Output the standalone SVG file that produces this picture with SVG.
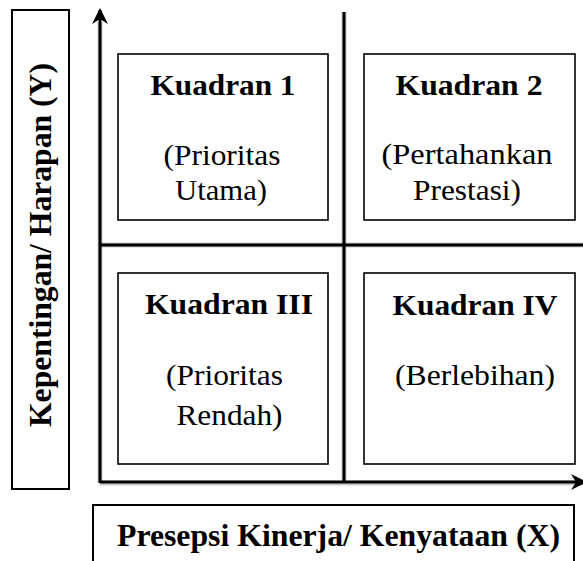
<svg xmlns="http://www.w3.org/2000/svg" width="583" height="561" viewBox="0 0 583 561">
  <style>
    .box { fill: #fff; stroke: #000; stroke-width: 1.6; }
    .lbl { fill: #fff; stroke: #000; stroke-width: 2; }
    .axis { stroke: #000; stroke-width: 3; fill: none; }
    .shadow { stroke: #999; stroke-width: 5; fill: none; opacity: 0.5; }
    text { fill: #000; text-anchor: middle; }
    .h { font-weight: bold; font-size: 30px; }
    .t { font-weight: normal; font-size: 30px; }
    .ax { font-weight: bold; font-size: 31px; }
  </style>
  <defs>
    <marker id="arr" viewBox="0 0 20 20" refX="16" refY="10" markerWidth="20" markerHeight="20" markerUnits="userSpaceOnUse" orient="auto">
      <path d="M2,2 L18,10 L2,18 L7,10 Z" fill="#000"/>
    </marker>
  </defs>
  <rect width="583" height="561" fill="#fff"/>

  <g id="connectors">
    <line class="shadow" x1="100" y1="22" x2="100" y2="483"/>
    <line class="shadow" x1="344" y1="12" x2="344" y2="483"/>
    <line class="shadow" x1="100" y1="245" x2="583" y2="245"/>
    <line class="shadow" x1="100" y1="483" x2="583" y2="483"/>
    <line class="axis" x1="100" y1="483" x2="100" y2="10" marker-end="url(#arr)"/>
    <line class="axis" x1="100" y1="482" x2="585" y2="482" marker-end="url(#arr)"/>
    <line class="axis" x1="344" y1="12" x2="344" y2="482"/>
    <line class="axis" x1="100" y1="245" x2="583" y2="245"/>
  </g>

  <g id="label-y">
    <rect class="lbl" x="12" y="10" width="57" height="479"/>
    <text class="ax" font-family="Liberation Serif, serif" transform="translate(51,245) rotate(-90)" x="0" y="0" textLength="364" lengthAdjust="spacingAndGlyphs">Kepentingan/ Harapan (Y)</text>
  </g>

  <g id="label-x">
    <rect class="lbl" x="93" y="505" width="481" height="70"/>
    <text class="ax" font-family="Liberation Serif, serif" x="338.5" y="546" textLength="443" lengthAdjust="spacingAndGlyphs">Presepsi Kinerja/ Kenyataan (X)</text>
  </g>

  <g id="kuadran-1">
    <rect class="box" x="118" y="54" width="210" height="166"/>
    <text class="h" font-family="Liberation Serif, serif" x="223" y="95" textLength="145" lengthAdjust="spacingAndGlyphs">Kuadran 1</text>
    <text class="t" font-family="Liberation Serif, serif" x="222" y="165" textLength="117" lengthAdjust="spacingAndGlyphs">(Prioritas</text>
    <text class="t" font-family="Liberation Serif, serif" x="221" y="200" textLength="92" lengthAdjust="spacingAndGlyphs">Utama)</text>
  </g>

  <g id="kuadran-2">
    <rect class="box" x="364" y="54" width="211" height="166"/>
    <text class="h" font-family="Liberation Serif, serif" x="469" y="95" textLength="147" lengthAdjust="spacingAndGlyphs">Kuadran 2</text>
    <text class="t" font-family="Liberation Serif, serif" x="467" y="164" textLength="171" lengthAdjust="spacingAndGlyphs">(Pertahankan</text>
    <text class="t" font-family="Liberation Serif, serif" x="467" y="200" textLength="108" lengthAdjust="spacingAndGlyphs">Prestasi)</text>
  </g>

  <g id="kuadran-3">
    <rect class="box" x="118" y="273" width="210" height="191"/>
    <text class="h" font-family="Liberation Serif, serif" x="229" y="314" textLength="168" lengthAdjust="spacingAndGlyphs">Kuadran III</text>
    <text class="t" font-family="Liberation Serif, serif" x="224.5" y="385" textLength="117" lengthAdjust="spacingAndGlyphs">(Prioritas</text>
    <text class="t" font-family="Liberation Serif, serif" x="229.5" y="425" textLength="106" lengthAdjust="spacingAndGlyphs">Rendah)</text>
  </g>

  <g id="kuadran-4">
    <rect class="box" x="364" y="273" width="211" height="191"/>
    <text class="h" font-family="Liberation Serif, serif" x="475" y="315" textLength="165" lengthAdjust="spacingAndGlyphs">Kuadran IV</text>
    <text class="t" font-family="Liberation Serif, serif" x="475" y="385" textLength="160" lengthAdjust="spacingAndGlyphs">(Berlebihan)</text>
  </g>
</svg>
